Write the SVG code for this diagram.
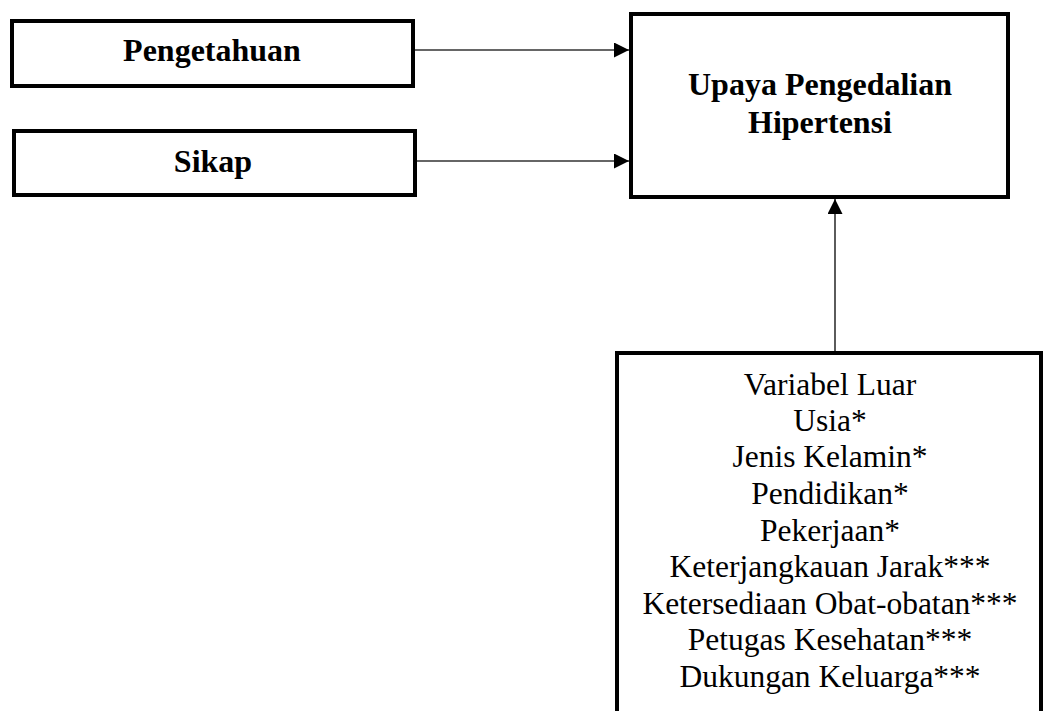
<svg xmlns="http://www.w3.org/2000/svg" width="1046" height="711" viewBox="0 0 1046 711">
<style>
.box{fill:#fff;stroke:#000;stroke-width:4}
.b{font-family:"Liberation Serif","Times New Roman",serif;font-weight:bold;font-size:32px;fill:#000;text-anchor:middle}
.r{font-family:"Liberation Serif","Times New Roman",serif;font-size:31.5px;fill:#000;text-anchor:middle}
.con{stroke:#333;stroke-width:1.6;fill:none}
</style>
<defs>
<marker id="ah" markerUnits="userSpaceOnUse" markerWidth="16" markerHeight="16" refX="15" refY="7.5" orient="auto">
<path d="M0,0 L15,7.5 L0,15 Z" fill="#000"/>
</marker>
</defs>
<rect width="1046" height="711" fill="#fff"/>
<g id="connectors">
<line class="con" x1="415" y1="50" x2="629" y2="50" marker-end="url(#ah)"/>
<line class="con" x1="417" y1="161" x2="629" y2="161" marker-end="url(#ah)"/>
<line class="con" x1="835" y1="351" x2="835" y2="199" marker-end="url(#ah)"/>
</g>
<g id="pengetahuan">
<rect class="box" x="12" y="21" width="401" height="65"/>
<text class="b" x="212" y="61">Pengetahuan</text>
</g>
<g id="sikap">
<rect class="box" x="14" y="131" width="401" height="64"/>
<text class="b" x="213" y="172">Sikap</text>
</g>
<g id="upaya">
<rect class="box" x="631" y="14" width="377" height="183"/>
<text class="b" x="820" y="95">Upaya Pengedalian</text>
<text class="b" x="820" y="133">Hipertensi</text>
</g>
<g id="variabel-luar">
<rect class="box" x="617" y="353" width="424" height="400"/>
<text class="r" x="830" y="395">Variabel Luar</text>
<text class="r" x="830" y="431">Usia*</text>
<text class="r" x="830" y="467">Jenis Kelamin*</text>
<text class="r" x="830" y="504">Pendidikan*</text>
<text class="r" x="830" y="541">Pekerjaan*</text>
<text class="r" x="830" y="577">Keterjangkauan Jarak***</text>
<text class="r" x="830" y="614">Ketersediaan Obat-obatan***</text>
<text class="r" x="830" y="650">Petugas Kesehatan***</text>
<text class="r" x="830" y="687">Dukungan Keluarga***</text>
</g>
</svg>
